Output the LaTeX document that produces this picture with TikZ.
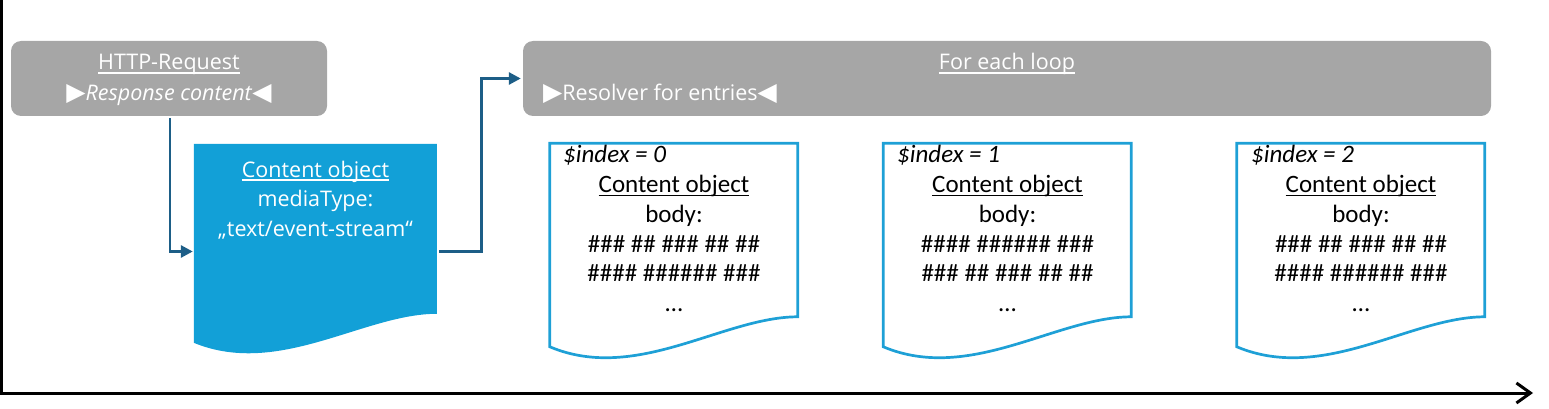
\documentclass[tikz,border=0pt]{standalone}
\usepackage{fontspec}
\setmainfont{Open Sans}
\newfontfamily\docfont{Carlito}
\newfontfamily\symfont{DejaVu Sans}
\usetikzlibrary{arrows.meta}
\definecolor{boxgray}{HTML}{A6A6A6}
\definecolor{docblue}{HTML}{12A0D7}
\definecolor{lineblue}{HTML}{1EA0D6}
\definecolor{arrowblue}{HTML}{1D5E87}
\newcommand\ulx[1]{\setbox0\hbox{#1}\rlap{\rule[-0.17em]{\wd0}{0.065em}}\box0}
\newcommand\tri[1]{{\symfont\fontsize{25pt}{25pt}\selectfont\raisebox{0pt}{#1}}}
% document shape: node, width, right height, left height, control depth, style
\newcommand\docshape[6]{%
  \begin{scope}[shift={(#1.north west)}]
    \path[#6] (0,0) -- (#2,0) -- (#2,#3) .. controls ({0.7*#2},#3) and ({0.35*#2},#5) .. (0,#4) -- cycle;
  \end{scope}}
\newcommand\doctexts[6]{%
  \node[doctext, anchor=base west, font=\docfont\fontsize{25pt}{30pt}\selectfont\itshape] (#1-idx) at (#3,162) {\$index = #4};
  \node[doctext] (#1-t1) at (#2,192) {\ulx{Content object}};
  \node[doctext] (#1-t2) at (#2,222) {body:};
  \node[doctext] (#1-t3) at (#2,252) {#5};
  \node[doctext] (#1-t4) at (#2,281.5) {#6};
  \node[doctext] (#1-t5) at (#2,311) {…};
}
\begin{document}
\begin{tikzpicture}[x=1pt,y=-1pt,
  graybox/.style={draw=none, fill=boxgray, rounded corners=10pt, inner sep=0pt},
  holder/.style={draw=none, inner sep=0pt},
  wtext/.style={text=white, inner sep=0pt, anchor=base, font=\fontsize{21.5pt}{30pt}\selectfont},
  doctext/.style={text=black, inner sep=0pt, anchor=base, font=\docfont\fontsize{25pt}{30pt}\selectfont},
  flow/.style={draw=arrowblue, line width=2.8pt, -{Triangle[length=12pt,width=12pt]}},
  axis/.style={draw=black, line width=3pt, -{Straight Barb[length=14pt,width=20pt,line width=3pt]}}
]
\useasboundingbox (0,0) rectangle (1549,409);

% axes
\coordinate (ytop) at (1.4,0);
\coordinate (orig) at (1.4,393);
\coordinate (xend) at (1533,393);
\draw[axis, line join=miter] (ytop) -- (orig) -- (xend);

% gray boxes
\node[graybox, minimum width=316pt, minimum height=75pt] (http) at (169,78.5) {};
\node[wtext] (http-t) at (169,70) {\ulx{HTTP-Request}};
\node[wtext] (http-r) at (169,101) {\tri{▶}\textit{Response content}\tri{◀}};

\node[graybox, minimum width=968pt, minimum height=75pt] (loop) at (1007,78.5) {};
\node[wtext] (loop-t) at (1007,70) {\ulx{For each loop}};
\node[wtext, anchor=base west] (loop-r) at (543,101) {\tri{▶}Resolver for entries\tri{◀}};

% blue document
\node[holder, minimum width=243pt, minimum height=215pt] (co) at (315.5,251.5) {};
\docshape{co}{243}{170}{199}{234}{fill=docblue}
\node[wtext] (co-t1) at (315.5,177) {\ulx{Content object}};
\node[wtext] (co-t2) at (315.5,206.5) {mediaType:};
\node[wtext] (co-t3) at (315.5,236) {„text/event-stream“};

% outline documents
\node[holder, minimum width=248pt, minimum height=215pt] (d0) at (674,251) {};
\node[holder, minimum width=248pt, minimum height=215pt] (d1) at (1007.5,251) {};
\node[holder, minimum width=248pt, minimum height=215pt] (d2) at (1361,251) {};
\docshape{d0}{248}{173.5}{203.5}{240}{draw=lineblue, line width=2.7pt, fill=white}
\docshape{d1}{248}{173.5}{203.5}{240}{draw=lineblue, line width=2.7pt, fill=white}
\docshape{d2}{248}{173.5}{203.5}{240}{draw=lineblue, line width=2.7pt, fill=white}
\doctexts{d0}{674}{563}{0}{\#\#\# \#\# \#\#\# \#\# \#\#}{\#\#\#\# \#\#\#\#\#\# \#\#\#}
\doctexts{d1}{1007.5}{897}{1}{\#\#\#\# \#\#\#\#\#\# \#\#\#}{\#\#\# \#\# \#\#\# \#\# \#\#}
\doctexts{d2}{1361}{1251}{2}{\#\#\# \#\# \#\#\# \#\# \#\#}{\#\#\#\# \#\#\#\#\#\# \#\#\#}

% connectors
\draw[flow] ([yshift=-2pt]http.south -| 170,0) |- ([xshift=-1pt]co.west);
\draw[flow] ([xshift=2pt]co.east) -- ++(42,0) |- ([xshift=-2pt]loop.west);
\end{tikzpicture}
\end{document}
